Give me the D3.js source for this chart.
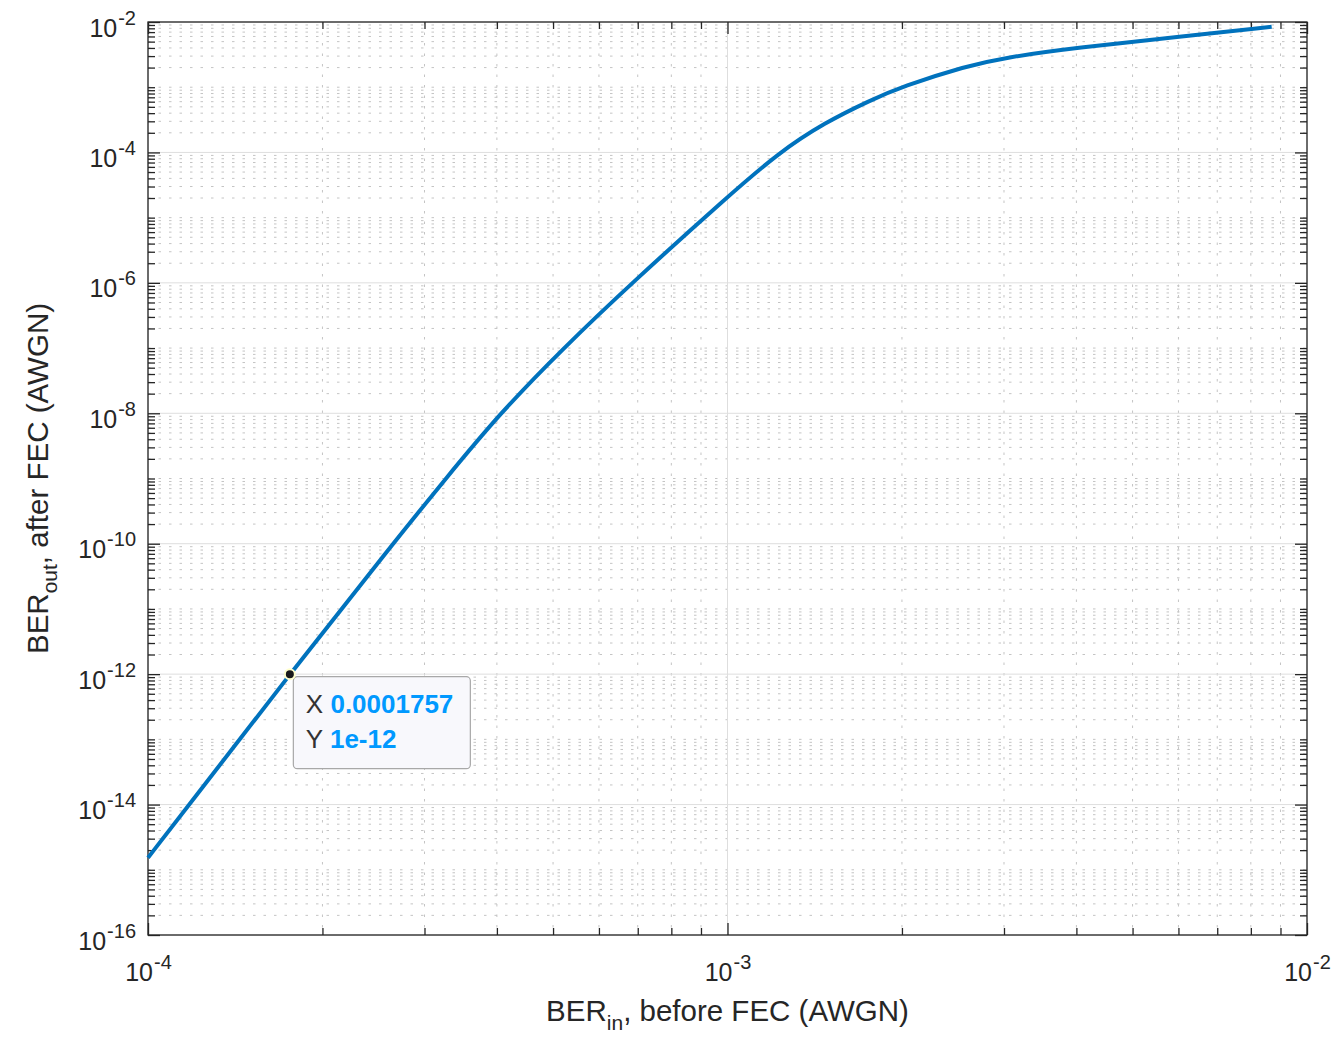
<!DOCTYPE html>
<html>
<head>
<meta charset="utf-8">
<script src="https://cdn.jsdelivr.net/npm/d3@7"></script>
<style>
  body { margin: 0; background: #fff; }
  text { font-family: "Liberation Sans", Arial, Helvetica, sans-serif; fill: #262626; }
</style>
</head>
<body>
<div id="my_dataviz"></div>
<script>
// BER before FEC (x) and after FEC (y)
var berIn  = [1.0e-4, 1.178e-4, 1.757e-4, 2.647e-4, 3.254e-4, 4.049e-4, 5.21e-4, 6.84e-4,
              1.0e-3, 1.227e-3, 1.473e-3, 1.761e-3, 2.0e-3, 2.587e-3, 3.0e-3, 4.0e-3,
              6.0e-3, 8.69e-3];
var berOut = [1.53e-15, 1e-14, 1e-12, 1e-10, 9.66e-10, 1e-8, 1e-7, 1e-6,
              2.09e-5, 1e-4, 2.874e-4, 6.25e-4, 1.025e-3, 2.114e-3, 2.835e-3, 4.04e-3,
              5.9e-3, 8.47e-3];

// labelled ticks
var xTickValues = [1e-4, 1e-3, 1e-2];
var yTickValues = [1e-2, 1e-4, 1e-6, 1e-8, 1e-10, 1e-12, 1e-14, 1e-16];

// data tip
var tipPoint = [1.757e-4, 1e-12];
var tipText = ["0.0001757", "1e-12"];

// set the dimensions and margins of the graph
var margin = {top: 22, right: 37, bottom: 102, left: 148},
    width = 1344 - margin.left - margin.right,
    height = 1037 - margin.top - margin.bottom;

var svg = d3.select("#my_dataviz")
  .append("svg")
    .attr("width", width + margin.left + margin.right)
    .attr("height", height + margin.top + margin.bottom)
  .append("g")
    .attr("transform", "translate(" + margin.left + "," + margin.top + ")");

var x = d3.scaleLog().domain([1e-4, 1e-2]).range([0, width]);
var y = d3.scaleLog().domain([1e-16, 1e-2]).range([height, 0]);

function notIn(list) {
  return function(v) {
    return !list.some(function(t) { return Math.abs(Math.log10(t) - Math.log10(v)) < 1e-6; });
  };
}
var xMinor = x.ticks().filter(notIn(xTickValues));
var yMinor = y.ticks(20).filter(notIn(yTickValues));

// minor grid (dotted)
svg.append("g").selectAll("line")
  .data(xMinor)
  .enter().append("line")
    .attr("x1", function(d) { return x(d); })
    .attr("x2", function(d) { return x(d); })
    .attr("y1", 0).attr("y2", height)
    .attr("stroke", "#c4c4c4")
    .attr("stroke-width", 1)
    .attr("stroke-dasharray", "2.5,8");
svg.append("g").selectAll("line")
  .data(yMinor)
  .enter().append("line")
    .attr("y1", function(d) { return y(d); })
    .attr("y2", function(d) { return y(d); })
    .attr("x1", 0).attr("x2", width)
    .attr("stroke", "#c4c4c4")
    .attr("stroke-width", 1)
    .attr("stroke-dasharray", "2.5,8");

// major grid (solid)
svg.append("g").selectAll("line")
  .data(xTickValues)
  .enter().append("line")
    .attr("x1", function(d) { return x(d); })
    .attr("x2", function(d) { return x(d); })
    .attr("y1", 0).attr("y2", height)
    .attr("stroke", "#dedede")
    .attr("stroke-width", 1);
svg.append("g").selectAll("line")
  .data(yTickValues)
  .enter().append("line")
    .attr("y1", function(d) { return y(d); })
    .attr("y2", function(d) { return y(d); })
    .attr("x1", 0).attr("x2", width)
    .attr("stroke", "#dedede")
    .attr("stroke-width", 1);

// power-of-ten label with superscript
function powLabel(sel) {
  sel.each(function(d) {
    var t = d3.select(this).text(null);
    t.append("tspan").text("10");
    t.append("tspan")
      .attr("dx", 1)
      .attr("dy", -12)
      .attr("font-size", 20)
      .text(Math.round(Math.log10(d)));
  });
}

function styleAxis(g) {
  g.select(".domain").remove();
  g.selectAll(".tick line").attr("stroke", "#262626").attr("stroke-width", 1.3);
  g.selectAll("text").attr("font-size", 25).attr("fill", "#262626");
}

// Add X axis (bottom + top, ticks inward)
svg.append("g")
  .attr("transform", "translate(0," + height + ")")
  .call(d3.axisBottom(x).tickValues(xMinor).tickSize(-7).tickFormat(""))
  .call(styleAxis);
svg.append("g")
  .attr("transform", "translate(0," + height + ")")
  .call(d3.axisBottom(x).tickValues(xTickValues).tickSize(-12).tickSizeOuter(0))
  .call(styleAxis)
  .call(function(g) {
    g.selectAll("text").attr("y", 46).attr("dy", 0).call(powLabel);
  });
svg.append("g")
  .call(d3.axisTop(x).tickValues(xMinor).tickSize(-7).tickFormat(""))
  .call(styleAxis);
svg.append("g")
  .call(d3.axisTop(x).tickValues(xTickValues).tickSize(-12).tickFormat(""))
  .call(styleAxis);

// Add Y axis (left + right, ticks inward)
svg.append("g")
  .call(d3.axisLeft(y).tickValues(yMinor).tickSize(-7).tickFormat(""))
  .call(styleAxis);
svg.append("g")
  .call(d3.axisLeft(y).tickValues(yTickValues).tickSize(-12).tickPadding(12))
  .call(styleAxis)
  .call(function(g) {
    g.selectAll("text").attr("dy", 14).call(powLabel);
  });
svg.append("g")
  .attr("transform", "translate(" + width + ",0)")
  .call(d3.axisRight(y).tickValues(yMinor).tickSize(-7).tickFormat(""))
  .call(styleAxis);
svg.append("g")
  .attr("transform", "translate(" + width + ",0)")
  .call(d3.axisRight(y).tickValues(yTickValues).tickSize(-12).tickFormat(""))
  .call(styleAxis);

// box
svg.append("rect")
  .attr("width", width)
  .attr("height", height)
  .attr("fill", "none")
  .attr("stroke", "#262626")
  .attr("stroke-width", 1.3);

// the curve
var points = berIn.map(function(d, i) { return [d, berOut[i]]; });
svg.append("path")
  .datum(points)
  .attr("fill", "none")
  .attr("stroke", "#0072BD")
  .attr("stroke-width", 4)
  .attr("d", d3.line()
    .x(function(d) { return x(d[0]); })
    .y(function(d) { return y(d[1]); })
    .curve(d3.curveBasis)
  );

// axis labels
var xl = svg.append("text")
  .attr("x", width / 2)
  .attr("y", height + 86)
  .attr("text-anchor", "middle")
  .attr("font-size", 29.5);
xl.append("tspan").text("BER");
xl.append("tspan").attr("font-size", 21).attr("dy", 9).text("in");
xl.append("tspan").attr("dy", -9).text(", before FEC (AWGN)");

var yl = svg.append("text")
  .attr("transform", "translate(" + (48 - margin.left) + "," + (height / 2) + ") rotate(-90)")
  .attr("text-anchor", "middle")
  .attr("font-size", 29.5);
yl.append("tspan").text("BER");
yl.append("tspan").attr("font-size", 21).attr("dy", 9).text("out");
yl.append("tspan").attr("dy", -9).text(", after FEC (AWGN)");

// data tip
var tx = x(tipPoint[0]), ty = y(tipPoint[1]);
var tip = svg.append("g").attr("transform", "translate(" + tx + "," + ty + ")");
tip.append("rect")
  .attr("x", 3.5).attr("y", 2.5)
  .attr("width", 177).attr("height", 92)
  .attr("rx", 4)
  .attr("fill", "#f8f8fc")
  .attr("stroke", "#a8a8a8")
  .attr("stroke-width", 1.2);
["X", "Y"].forEach(function(lab, i) {
  var t = tip.append("text")
    .attr("x", 16)
    .attr("y", 39 + i * 35)
    .attr("font-size", 26);
  t.append("tspan").attr("fill", "#333333").text(lab + " ");
  t.append("tspan").attr("fill", "#0099ff").attr("font-weight", "bold").text(tipText[i]);
});
tip.append("circle")
  .attr("r", 5)
  .attr("fill", "#1a1a1a")
  .attr("stroke", "#ffffcc")
  .attr("stroke-width", 2);
</script>
</body>
</html>
